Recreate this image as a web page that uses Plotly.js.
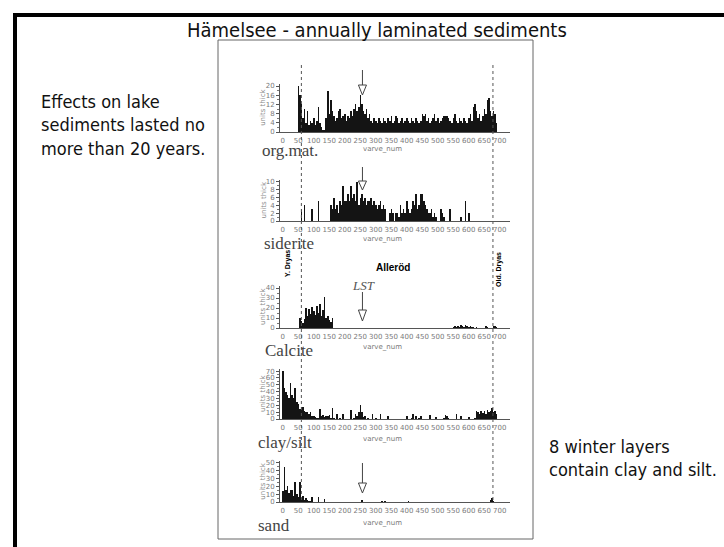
<!DOCTYPE html>
<html><head><meta charset="utf-8">
<script src="https://cdn.plot.ly/plotly-3.0.1.min.js"></script>
<style>html,body{margin:0;padding:0;background:#fff;}#chart{width:724px;height:547px;}</style>
</head><body><div id="chart"></div>
<script>
// varve numbers (5-varve bins)
const varves = [0,5,10,15,20,25,30,35,40,45,50,55,60,65,70,75,80,85,90,95,
100,105,110,115,120,125,130,135,140,145,150,155,160,165,170,175,180,185,190,195,
200,205,210,215,220,225,230,235,240,245,250,255,260,265,270,275,280,285,290,295,
300,305,310,315,320,325,330,335,340,345,350,355,360,365,370,375,380,385,390,395,
400,405,410,415,420,425,430,435,440,445,450,455,460,465,470,475,480,485,490,495,
500,505,510,515,520,525,530,535,540,545,550,555,560,565,570,575,580,585,590,595,
600,605,610,615,620,625,630,635,640,645,650,655,660,665,670,675,680,685,690,695];

const orgMat = [0,0,0,0,0,0,0,0,0,0, 20,16,12,6,10,4,9,3,5,4,
6,3,5,11,4,2,1,1,6,18, 8,14,9,7,5,6,9,10,6,7,
8,5,7,6,9,7,10,12,9,11, 16,12,9,8,10,6,8,5,4,6,
5,4,6,5,4,6,5,4,6,5, 7,4,5,7,6,4,5,6,4,5,
6,5,4,6,5,4,6,5,4,5, 8,7,8,5,6,4,5,6,8,5,
6,4,5,6,7,7,7,6,5,4, 6,8,5,4,6,5,4,6,5,4,
6,8,5,11,12,9,6,8,5,7, 10,8,14,15,9,7,9,8,4,0];

const siderite = [0,0,0,0,0,0,0,0,0,0, 0,0,3,0,4,0,0,0,0,3,
0,0,0,5,0,0,0,0,0,0, 0,4,3,6,3,4,2,5,4,9,
5,5,7,5,9,6,7,5,10,4, 6,7,5,6,4,5,5,6,4,5,
4,3,4,5,3,4,3,0,0,2, 3,2,0,2,2,1,4,2,3,2,
5,3,2,3,5,4,7,3,4,7, 7,5,4,3,2,2,3,1,2,1,
0,0,3,2,1,0,0,0,3,0, 0,0,0,0,0,1,0,0,5,0,
2,0,0,0,0,0,0,0,0,0, 0,0,0,0,0,0,0,0,0,0];

const calcite = [0,0,0,0,0,0,0,0,0,0, 0,10,7,5,9,20,12,19,14,21,
17,13,22,15,24,12,18,31,10,12, 8,6,10,0,0,0,0,0,0,0,
0,0,0,0,0,0,0,0,0,0, 0,0,0,0,0,0,0,0,0,0,
0,0,0,0,0,0,0,0,0,0, 0,0,0,0,0,0,0,0,0,0,
0,0,0,0,0,0,0,0,0,0, 0,0,0,0,0,0,0,0,0,0,
0,0,0,0,0,0,0,0,0,0, 1,2,1,2,1,3,2,1,3,2,
1,2,1,1,0,1,0,0,0,0, 0,2,1,0,0,0,2,2,1,0];

const claySilt = [70,45,40,35,30,52,35,30,45,25, 22,15,18,17,12,10,10,8,10,5,
5,3,2,2,14,4,6,3,5,4, 6,2,16,2,0,7,0,2,0,7,
0,0,0,0,13,0,2,8,4,10, 20,10,3,5,0,2,0,0,8,0,
2,0,0,8,0,0,0,0,5,0, 0,0,0,0,0,0,0,0,0,0,
5,0,0,2,8,0,5,0,2,4, 0,0,0,0,0,6,0,0,0,3,
0,0,0,0,2,6,5,2,0,0, 0,0,7,0,0,4,0,0,0,0,
3,0,0,0,2,12,10,8,11,9, 12,8,13,10,12,16,10,12,8,0];

const sand = [14,45,15,20,12,15,16,8,25,10, 6,26,5,8,3,5,2,1,1,6,
0,0,0,6,0,0,0,4,0,0, 0,0,0,0,0,0,0,0,0,0,
0,0,0,0,0,0,0,0,0,0, 0,2,0,0,0,0,0,0,0,0,
0,0,0,0,1,0,1,0,0,0, 0,0,0,0,0,0,0,0,0,0,
0,1,0,0,0,0,0,0,0,0, 0,0,0,0,0,0,0,0,0,0,
0,0,0,0,0,0,0,0,0,0, 0,0,0,0,0,0,0,0,0,0,
0,0,0,0,0,0,0,0,0,0, 0,0,0,0,3,5,1,0,0,0];

const panelNames = ["org.mat.", "siderite", "Calcite", "clay/silt", "sand"];
const panelSeries = [orgMat, siderite, calcite, claySilt, sand];
const xTicks = [0,50,100,150,200,250,300,350,400,450,500,550,600,650,700];
const lstVarve = 257;
const zoneBoundaries = [60, 678];

// ---------- layout helpers ----------
const W = 724, H = 547;
const px = x => x / W;
const py = y => 1 - y / H;
const xr = [-9, 733];
const xDom = [px(280), px(510)];
const panels = [
  {bottom: 132, top: 83.7, range: [0, 21], dtick: 4, lbl: 150, vn: 149, arrow: [70, 85, 95]},
  {bottom: 221, top: 180, range: [0, 10.5], dtick: 2, lbl: 243, vn: 239, arrow: [167, 181, 190]},
  {bottom: 328, top: 286, range: [0, 42], dtick: 10, lbl: 350, vn: 347, arrow: [292, 310, 321]},
  {bottom: 419, top: 369, range: [0, 73], dtick: 10, lbl: 442, vn: 439, arrow: null},
  {bottom: 502, top: 461.4, range: [0, 52], dtick: 10, lbl: 525, vn: 523, arrow: [463, 483, 493]}
];
const lblX = [260, 262, 263, 256, 256];

const traces = [];
const layout = {
  width: W, height: H, margin: {l: 0, r: 0, t: 0, b: 0},
  paper_bgcolor: '#fff', plot_bgcolor: 'rgba(0,0,0,0)',
  showlegend: false, bargap: 0.0,
  font: {family: 'DejaVu Sans', color: '#111'},
  shapes: [], annotations: []
};

function ann(x, y, text, font, extra) {
  return Object.assign({xref: 'paper', yref: 'paper', x: px(x), y: py(y), text: text, showarrow: false,
    xanchor: 'center', yanchor: 'middle', font: font}, extra || {});
}

panels.forEach((p, i) => {
  const n = i + 1;
  const xa = 'xaxis' + (n === 1 ? '' : n), ya = 'yaxis' + (n === 1 ? '' : n);
  const xid = 'x' + (n === 1 ? '' : n), yid = 'y' + (n === 1 ? '' : n);
  traces.push({type: 'bar', x: varves, y: panelSeries[i], xaxis: xid, yaxis: yid,
    marker: {color: '#141414', line: {width: 0}}, hoverinfo: 'skip'});
  layout[xa] = {domain: xDom, range: xr, anchor: yid, showline: true, linecolor: '#555', linewidth: 1,
    ticks: '', tickvals: xTicks, tickfont: {size: 7, color: '#7a7a7a', family: 'DejaVu Sans'},
    showgrid: false, zeroline: false, fixedrange: true, ticklabelstandoff: 2};
  layout[ya] = {domain: [py(p.bottom), py(p.top)], range: p.range, anchor: xid, showline: true,
    linecolor: '#555', linewidth: 1, ticks: 'outside', ticklen: 3, tickcolor: '#555', dtick: p.dtick, tick0: 0,
    minor: {ticks: 'outside', ticklen: 2, dtick: p.dtick / 2, tickcolor: '#777'},
    tickfont: {size: 7, color: '#7a7a7a', family: 'DejaVu Sans'}, showgrid: false, zeroline: false, fixedrange: true};
  layout.annotations.push(ann(263, (p.bottom + p.top) / 2, 'units thick',
    {size: 7, color: '#888', family: 'DejaVu Sans'}, {textangle: -90}));
  layout.annotations.push(ann(382, p.vn, 'varve_num', {size: 7, color: '#777', family: 'DejaVu Sans'}));
  layout.annotations.push(ann(lblX[i], p.lbl, panelNames[i],
    {size: 17, color: '#444', family: 'Liberation Serif'}, {xanchor: 'left'}));
  if (p.arrow) {
    const [a0, a1, a2] = p.arrow;
    layout.shapes.push({type: 'line', xref: 'x', yref: 'paper', x0: lstVarve, x1: lstVarve,
      y0: py(a0), y1: py(a1), line: {color: '#444', width: 1}});
    layout.shapes.push({type: 'path', xref: 'x', yref: 'paper',
      path: `M ${lstVarve - 13} ${py(a1)} L ${lstVarve + 13} ${py(a1)} L ${lstVarve} ${py(a2)} Z`,
      fillcolor: '#fff', line: {color: '#444', width: 1}});
  }
});

zoneBoundaries.forEach(v => {
  layout.shapes.push({type: 'line', xref: 'x', yref: 'paper', x0: v, x1: v, y0: py(65), y1: py(500),
    line: {color: '#555', width: 1, dash: 'dot'}});
});

layout.shapes.push({type: 'rect', xref: 'paper', yref: 'paper', x0: px(218), x1: px(533), y0: py(539), y1: py(40),
  line: {color: '#666', width: 1}, fillcolor: 'rgba(0,0,0,0)'});
layout.shapes.push({type: 'line', xref: 'paper', yref: 'paper', x0: px(13), x1: 1.01, y0: py(15), y1: py(15),
  line: {color: '#000', width: 4}});
layout.shapes.push({type: 'line', xref: 'paper', yref: 'paper', x0: px(15), x1: px(15), y0: py(13), y1: -0.01,
  line: {color: '#000', width: 4}});

layout.annotations.push(
  ann(288, 264, '<b>Y. Dryas</b>', {size: 7, color: '#000', family: 'Liberation Sans'}, {textangle: -90}),
  ann(393, 267, '<b>Alleröd</b>', {size: 10, color: '#000', family: 'Liberation Sans'}),
  ann(499, 270, '<b>Old. Dryas</b>', {size: 7, color: '#000', family: 'Liberation Sans'}, {textangle: -90}),
  ann(363, 285, '<i>LST</i>', {size: 13, color: '#555', family: 'Liberation Serif'})
);

layout.annotations.push(
  ann(377, 30, 'Hämelsee - annually laminated sediments', {size: 20, color: '#111', family: 'DejaVu Sans Condensed'}),
  ann(39, 125, 'Effects on lake<br>sediments lasted no<br>more than 20 years.',
    {size: 18, color: '#111', family: 'DejaVu Sans Condensed'}, {xanchor: 'left', align: 'left'}),
  ann(547, 458, '8 winter layers<br>contain clay and silt.',
    {size: 18, color: '#111', family: 'DejaVu Sans Condensed'}, {xanchor: 'left', align: 'left'})
);

Plotly.newPlot('chart', traces, layout, {staticPlot: true, displayModeBar: false});
</script></body></html>
